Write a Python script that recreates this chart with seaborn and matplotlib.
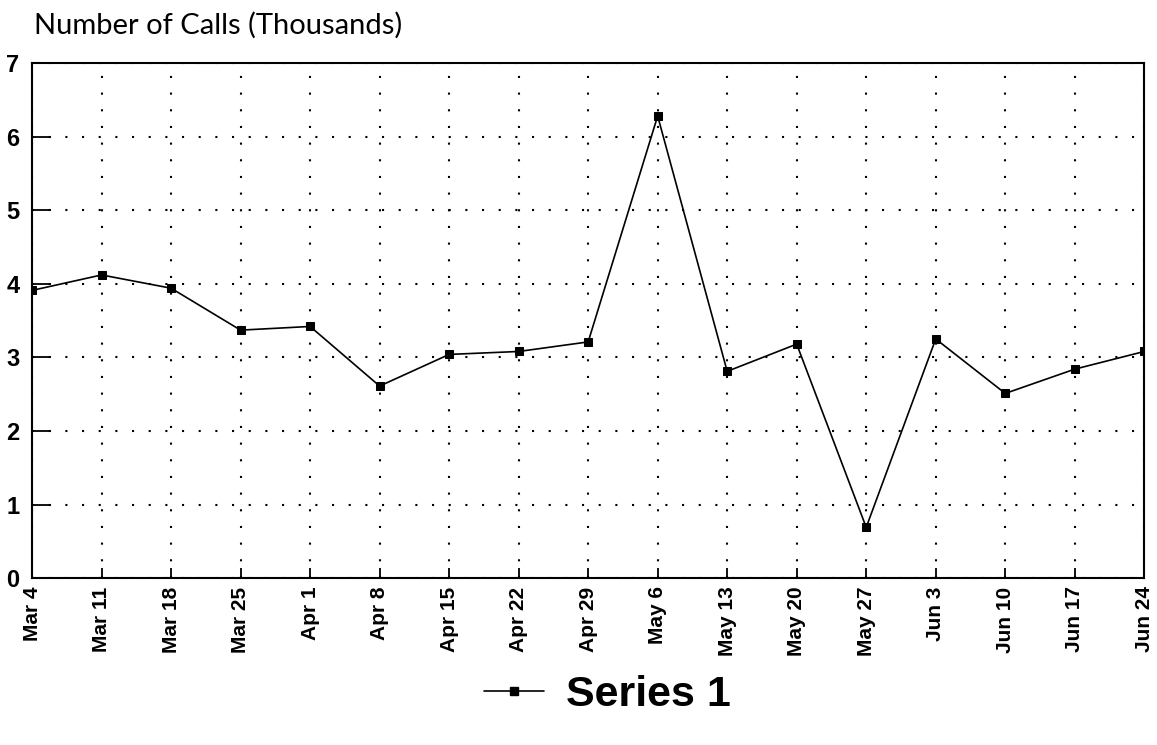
import matplotlib
matplotlib.use("Agg")
import matplotlib.pyplot as plt
import seaborn as sns
import pandas as pd
from matplotlib.lines import Line2D

dates = ["Mar 4", "Mar 11", "Mar 18", "Mar 25", "Apr 1", "Apr 8", "Apr 15", "Apr 22",
         "Apr 29", "May 6", "May 13", "May 20", "May 27", "Jun 3", "Jun 10", "Jun 17", "Jun 24"]
calls = [3.91, 4.12, 3.94, 3.37, 3.42, 2.61, 3.04, 3.08, 3.21, 6.28, 2.81, 3.18, 0.69,
         3.25, 2.51, 2.84, 3.08]
y_ticks = [0, 1, 2, 3, 4, 5, 6, 7]

sns.set_theme(style="white")
plt.rcParams['font.family'] = ['Liberation Sans', 'DejaVu Sans']
plt.rcParams['text.color'] = 'black'
plt.rcParams['xtick.color'] = 'black'
plt.rcParams['ytick.color'] = 'black'

df = pd.DataFrame({"pos": range(len(dates)), "calls": calls})

fig = plt.figure(figsize=(11.57, 7.45), dpi=100)
ax = fig.add_axes([0.0277, 0.224, 0.9613, 0.6914])

sns.lineplot(data=df, x="pos", y="calls", ax=ax, color="black", linewidth=1.2,
             marker="s", markersize=6, markeredgecolor="black", markerfacecolor="black")

ax.set_xlim(0, len(dates) - 1)
ax.set_ylim(0, 7)
ax.set_xticks(range(len(dates)))
ax.set_xticklabels(dates, rotation=90, fontsize=15, fontweight="bold")
ax.set_yticks(y_ticks)
ax.set_yticklabels([str(t) for t in y_ticks], fontsize=17, fontweight="bold")
ax.tick_params(axis="x", direction="in", length=7, width=1.3, color="black",
               bottom=True, pad=6)
ax.tick_params(axis="y", direction="in", length=14, width=1.3, color="black",
               left=True, pad=9)
ax.grid(True, color="black", linestyle=(0, (1, 7)), linewidth=1.5)
for s in ax.spines.values():
    s.set_color("black")
    s.set_linewidth(1.5)
ax.set_xlabel("")
ax.set_ylabel("")

fig.text(0.029, 0.966, "Number of Calls (Thousands)", fontsize=21, family=["Lato", "DejaVu Sans"],
         ha="left", va="center", color="black")

handle = Line2D([0], [0], color="black", linewidth=1.2, marker="s", markersize=6)
fig.legend([handle], ["Series 1"], loc="center", bbox_to_anchor=(0.525, 0.067),
           frameon=False, prop={"size": 31, "weight": "bold"}, handlelength=1.4,
           handletextpad=0.5)

fig.savefig("out.png", dpi=100)
